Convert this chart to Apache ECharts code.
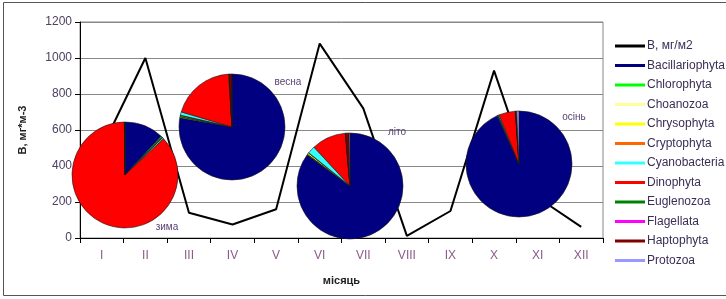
<!DOCTYPE html>
<html>
<head>
<meta charset="utf-8">
<script src="https://cdn.jsdelivr.net/npm/echarts@6/dist/echarts.min.js"></script>
<style>
  html, body { margin: 0; padding: 0; background: #fff; }
  #main { width: 726px; height: 299px; }
</style>
</head>
<body>
<div id="main"></div>
<script>
  // місяці
  const months = ['I', 'II', 'III', 'IV', 'V', 'VI', 'VII', 'VIII', 'IX', 'X', 'XI', 'XII'];
  // біомаса, мг/м2
  const biomass = [500, 1000, 140, 75, 160, 1080, 720, 12, 150, 930, 225, 62];
  const yTicks = [0, 200, 400, 600, 800, 1000, 1200];

  const groups = ['Bacillariophyta', 'Chlorophyta', 'Choanozoa', 'Chrysophyta', 'Cryptophyta',
    'Cyanobacteria', 'Dinophyta', 'Euglenozoa', 'Flagellata', 'Haptophyta', 'Protozoa'];
  const groupColors = ['#000080', '#00ff00', '#ffff99', '#ffff00', '#ff6600',
    '#33ffff', '#ff0000', '#008000', '#ff00ff', '#800000', '#9999ff'];

  // частки груп по сезонах, %
  const seasons = ['зима', 'весна', 'літо', 'осінь'];
  const winter = [12.0, 0.4, 0, 0.1, 0.1, 0.4, 86.8, 0.1, 0, 0.1, 0];
  const spring = [77.8, 0.4, 0, 0.3, 0.1, 1.0, 19.4, 0.2, 0, 0.8, 0];
  const summer = [85.0, 0.2, 0, 0.5, 0.1, 2.3, 10.5, 0.1, 0, 1.0, 0.3];
  const autumn = [93.3, 0.2, 0, 0.1, 0, 0.3, 5.0, 0.1, 0, 0.3, 0.7];

  const lineName = 'В, мг/м2';

  const pieCenters = [[125, 175], [232, 127], [350, 186], [519, 164]];
  const labelPos = [[167, 227], [288, 82], [397, 132], [574, 117]];

  const font = '"Liberation Sans", Arial, sans-serif';
  const chart = echarts.init(document.getElementById('main'));

  function pieSeries(values, i) {
    return {
      type: 'pie',
      name: seasons[i],
      z: 3,
      center: pieCenters[i],
      radius: 53,
      startAngle: 90,
      clockwise: true,
      animation: false,
      label: { show: false },
      labelLine: { show: false },
      emphasis: { disabled: true },
      itemStyle: { borderColor: '#1a1a1a', borderWidth: 0.6 },
      data: values.map((v, k) => ({
        name: groups[k],
        value: v,
        itemStyle: { color: groupColors[k] }
      }))
    };
  }

  const option = {
    animation: false,
    textStyle: { fontFamily: font },
    graphic: [
      {
        type: 'rect',
        shape: { x: 3.5, y: 2.5, width: 740, height: 293 },
        style: { fill: 'none', stroke: '#555', lineWidth: 1 },
        silent: true
      }
    ].concat(seasons.map((s, i) => ({
      type: 'text',
      x: labelPos[i][0],
      y: labelPos[i][1],
      z: 10,
      style: {
        text: s,
        fill: '#5a4272',
        font: '10px ' + font,
        align: 'center',
        verticalAlign: 'middle'
      }
    }))),
    legend: {
      orient: 'vertical',
      left: 610,
      top: 34,
      icon: 'rect',
      itemWidth: 30,
      itemHeight: 3,
      itemGap: 5.5,
      selectedMode: false,
      itemStyle: { borderWidth: 0 },
      textStyle: { fontSize: 12, color: '#3a2e55', lineHeight: 14, padding: [0, 0, 0, -3] },
      data: [lineName].concat(groups)
    },
    grid: {
      left: 80,
      right: 123,
      top: 22,
      bottom: 61,
      show: true,
      borderColor: '#888',
      borderWidth: 1
    },
    xAxis: {
      type: 'category',
      data: months,
      boundaryGap: true,
      name: 'місяць',
      nameLocation: 'middle',
      nameGap: 37,
      nameTextStyle: { fontSize: 11, fontWeight: 'bold', color: '#222' },
      axisLine: { lineStyle: { color: '#000', width: 1 } },
      axisTick: { show: true, length: 5, lineStyle: { color: '#000' } },
      axisLabel: { fontSize: 12, color: '#8a5a88', margin: 12 }
    },
    yAxis: {
      type: 'value',
      min: yTicks[0],
      max: yTicks[yTicks.length - 1],
      interval: 200,
      name: 'В, мг*м-3',
      nameLocation: 'middle',
      nameRotate: 90,
      nameGap: 52,
      nameTextStyle: { fontSize: 11, fontWeight: 'bold', color: '#222' },
      axisLine: { show: true, lineStyle: { color: '#000', width: 1 } },
      axisTick: { show: true, length: 5, lineStyle: { color: '#000' } },
      axisLabel: { fontSize: 12, color: '#4d4060', margin: 8, formatter: v => String(v) },
      splitLine: { lineStyle: { color: '#888', width: 1 } }
    },
    series: [
      {
        type: 'line',
        name: lineName,
        data: biomass,
        symbol: 'none',
        color: '#000',
        lineStyle: { color: '#000', width: 2 },
        z: 2
      },
      pieSeries(winter, 0),
      pieSeries(spring, 1),
      pieSeries(summer, 2),
      pieSeries(autumn, 3)
    ]
  };

  chart.setOption(option);
</script>
</body>
</html>
